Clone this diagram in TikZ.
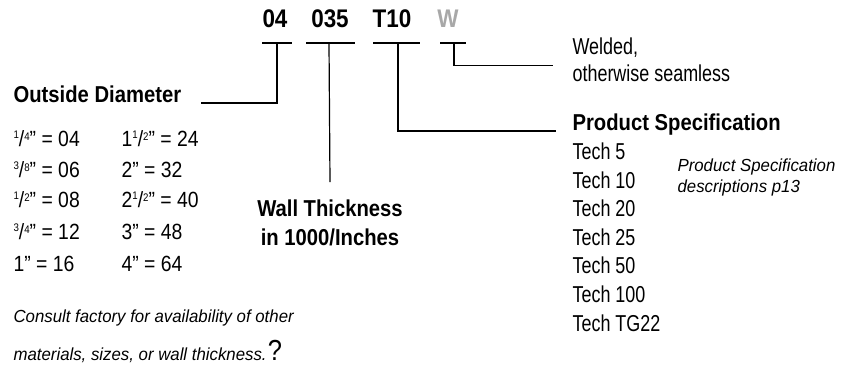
\documentclass[tikz,border=0pt]{standalone}
\usepackage{fontspec}
\setmainfont{Liberation Sans}[FakeStretch=0.88]
\newfontfamily\specfont{Liberation Sans}[FakeStretch=0.78]
\newfontfamily\notefont{Liberation Sans}[FakeStretch=0.96]
\usetikzlibrary{positioning}
\usetikzlibrary{calc}
\definecolor{codegray}{RGB}{168,168,168}
\newcommand\odfrac[2]{\raisebox{8pt}{\fontsize{11}{11}\selectfont#1}/\raisebox{6.5pt}{\fontsize{11}{11}\selectfont#2}}

\begin{document}
\begin{tikzpicture}[x=1pt,y=-1pt,line width=1.2pt,
        every node/.style={inner sep=0pt},
        code/.style={font=\fontsize{25.5}{30}\selectfont\bfseries,anchor=base},
        head/.style={font=\fontsize{23}{28}\selectfont\bfseries,anchor=base west},
        size/.style={font=\fontsize{22}{26}\selectfont,anchor=base west},
        spec/.style={font=\specfont\fontsize{23}{27}\selectfont,anchor=base west},
        note/.style={font=\notefont\itshape\fontsize{17.5}{20}\selectfont,anchor=base west}]
            \useasboundingbox (0,0) rectangle (844,366);
            \node[code] (c04) at (275,28) {04};
            \node[code] (c035) at (330,28) {035};
            \node[code] (cT10) at (392,28) {T10};
            \node[code,text=codegray] (cW) at (448,28) {W};
            \coordinate (b04) at (277,43);
            \coordinate (b035) at (329,43);
            \coordinate (bT10) at (398,43);
            \coordinate (bW) at (454,43);
            \node[head] (od) at (13,103) {Outside Diameter};
            \node[head,anchor=base] (wt1) at (330,217) {Wall Thickness};
            \node[head,anchor=base] (wt2) at (330,246) {in 1000/Inches};
            \node[head] (ps) at (572,131) {Product Specification};
            \node[spec] (wd1) at (572,55) {Welded,};
            \node[spec] (wd2) at (572,82) {otherwise seamless};
            \foreach \t [count=\i] in {5,10,20,25,50,100,TG22}
                \node[spec] (tech\i) at (572,{160+28.5*(\i-1)}) {Tech \t};
            \node[note] (psn1) at (677,172) {Product Specification};
            \node[note] (psn2) at (677,193) {descriptions p13};
            \node[size] (r1a) at (13,147) {\odfrac{1}{4}” = 04};
            \node[size] (r2a) at (13,178) {\odfrac{3}{8}” = 06};
            \node[size] (r3a) at (13,208) {\odfrac{1}{2}” = 08};
            \node[size] (r4a) at (13,240) {\odfrac{3}{4}” = 12};
            \node[size] (r5a) at (13,272) {1” = 16};
            \node[size] (r1b) at (121,147) {1\odfrac{1}{2}” = 24};
            \node[size] (r2b) at (121,178) {2” = 32};
            \node[size] (r3b) at (121,208) {2\odfrac{1}{2}” = 40};
            \node[size] (r4b) at (121,240) {3” = 48};
            \node[size] (r5b) at (121,272) {4” = 64};
            \node[note] (cf1) at (13,323) {Consult factory for availability of other};
            \node[note] (cf2) at (13,360) {materials, sizes, or wall thickness.};
            \node[anchor=base west,font=\fontsize{29}{34}\selectfont] (qm) at (cf2.base east) {?};
            \draw ([xshift=-15pt]b04) -- ([xshift=15pt]b04);
            \draw ([xshift=-23pt]b035) -- ([xshift=26pt]b035);
            \draw ([xshift=-25pt]bT10) -- ([xshift=22pt]bT10);
            \draw ([xshift=-14pt]bW) -- ([xshift=12pt]bW);
            \draw (b04) |- ([xshift=19pt]od.base east);
            \draw (b035) -- ([yshift=17.5pt]wt1.north);
            \draw (bT10) |- ([xshift=-16pt]ps.base west);
            \draw (bW) |- ($(wd1.base west)!0.4!(wd2.base west)+(-19,0)$);
        \end{tikzpicture}
\end{document}
